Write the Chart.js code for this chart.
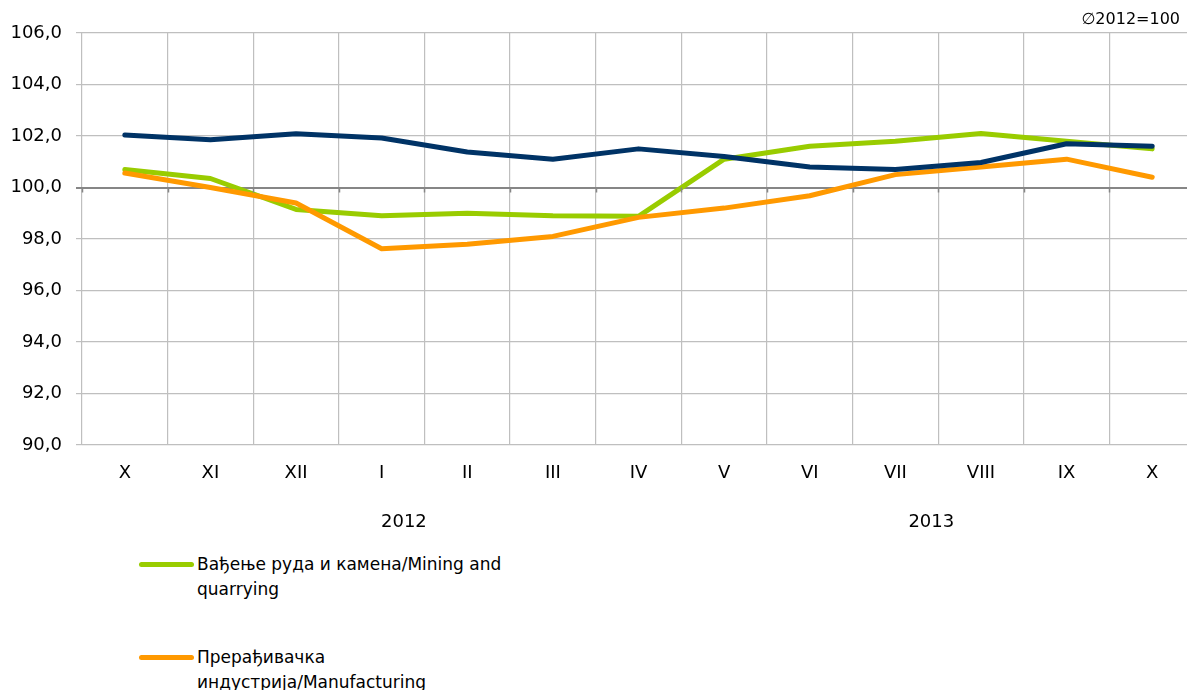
<!DOCTYPE html>
<html>
<head>
<meta charset="utf-8">
<script src="https://cdn.jsdelivr.net/npm/chart.js@4.4.1/dist/chart.umd.min.js"></script>
<style>
  html, body { margin: 0; padding: 0; background: #fff; overflow: hidden; width: 1187px; height: 690px; }
  #wrap { position: absolute; left: 0; top: 0; width: 1200px; height: 545px; }
  .legend { position: absolute; left: 139px; font-family: "DejaVu Sans", sans-serif; font-size: 17px; line-height: 25px; color: #000; }
  .legend .sw { position: absolute; left: 0; top: 10px; width: 55px; height: 5px; border-radius: 3px; }
  .legend .tx { margin-left: 58px; width: 330px; }
</style>
</head>
<body>
<div id="wrap"><canvas id="chart" width="1200" height="545"></canvas></div>
<div class="legend" style="top:552px"><div class="sw" style="background:#99cc00"></div><div class="tx">Вађење руда и камена/Mining and quarrying</div></div>
<div class="legend" style="top:645px"><div class="sw" style="background:#ff9900"></div><div class="tx">Прерађивачка индустрија/Manufacturing</div></div>
<script>
// Mjeseci (okt 2012 - okt 2013)
const months = ["X", "XI", "XII", "I", "II", "III", "IV", "V", "VI", "VII", "VIII", "IX", "X"];
const years = ["2012", "2013"];

// Indeksi, prosjek 2012 = 100
const mining = [100.7, 100.35, 99.15, 98.9, 99.0, 98.9, 98.88, 101.1, 101.6, 101.8, 102.1, 101.8, 101.5];
const manufacturing = [100.56, 100.0, 99.4, 97.62, 97.8, 98.1, 98.84, 99.2, 99.68, 100.5, 100.8, 101.1, 100.4];
const total = [102.04, 101.85, 102.09, 101.92, 101.38, 101.1, 101.5, 101.2, 100.8, 100.7, 100.97, 101.7, 101.6];

const FONT = "'DejaVu Sans', sans-serif";

// Plugin za dodatni tekst i crtice na liniji 100
const extras = {
  id: "extras",
  afterDraw(chart) {
    const ctx = chart.ctx;
    const x = chart.scales.x;
    const y = chart.scales.y;
    const y100 = y.getPixelForValue(100);
    ctx.save();
    // crtice ispod linije 100
    ctx.strokeStyle = "#868686";
    ctx.lineWidth = 1.5;
    for (let i = 0; i <= months.length; i++) {
      const px = Math.round(x.getPixelForValue(i - 0.5)) + 0.5;
      ctx.beginPath();
      ctx.moveTo(px, y100);
      ctx.lineTo(px, y100 + 5);
      ctx.stroke();
    }
    // godine
    ctx.fillStyle = "#000";
    ctx.font = "18px " + FONT;
    ctx.textAlign = "center";
    ctx.textBaseline = "middle";
    ctx.fillText(years[0], x.getPixelForValue(3.26), 522);
    ctx.fillText(years[1], x.getPixelForValue(9.42), 522);
    // oznaka baze
    ctx.font = "16px " + FONT;
    ctx.textAlign = "right";
    ctx.fillText("\u22052012=100", 1180, 20);
    ctx.restore();
  },
};

new Chart(document.getElementById("chart"), {
  type: "line",
  data: {
    labels: months,
    datasets: [
      { label: "Вађење руда и камена/Mining and quarrying", data: mining, borderColor: "#99cc00", order: 3 },
      { label: "Прерађивачка индустрија/Manufacturing", data: manufacturing, borderColor: "#ff9900", order: 2 },
      { label: "Укупно/Total", data: total, borderColor: "#003366", order: 1 },
    ],
  },
  options: {
    responsive: false,
    animation: false,
    layout: { padding: { top: 33, right: 5, left: 0, bottom: 0 } },
    elements: {
      line: { borderWidth: 5, tension: 0, borderCapStyle: "round", borderJoinStyle: "round", fill: false },
      point: { radius: 0 },
    },
    plugins: { legend: { display: false }, tooltip: { enabled: false } },
    scales: {
      x: {
        offset: true,
        border: { display: false },
        grid: { offset: true, color: "#bfbfbf", lineWidth: 1.2, drawTicks: false },
        ticks: { color: "#000", font: { family: FONT, size: 18 }, padding: 18, maxRotation: 0 },
        afterFit(scale) { scale.height = 100; },
      },
      y: {
        min: 90,
        max: 106,
        border: { display: false },
        grid: {
          color: (c) => (c.tick && c.tick.value === 100 ? "#868686" : "#bfbfbf"),
          lineWidth: (c) => (c.tick && c.tick.value === 100 ? 2 : 1.2),
          tickLength: 6,
        },
        ticks: {
          stepSize: 2,
          color: "#000",
          padding: 14,
          font: { family: FONT, size: 18 },
          callback: (v) => v.toFixed(1).replace(".", ","),
        },
        afterFit(scale) { scale.width = 82; },
      },
    },
  },
  plugins: [extras],
});
</script>
</body>
</html>
